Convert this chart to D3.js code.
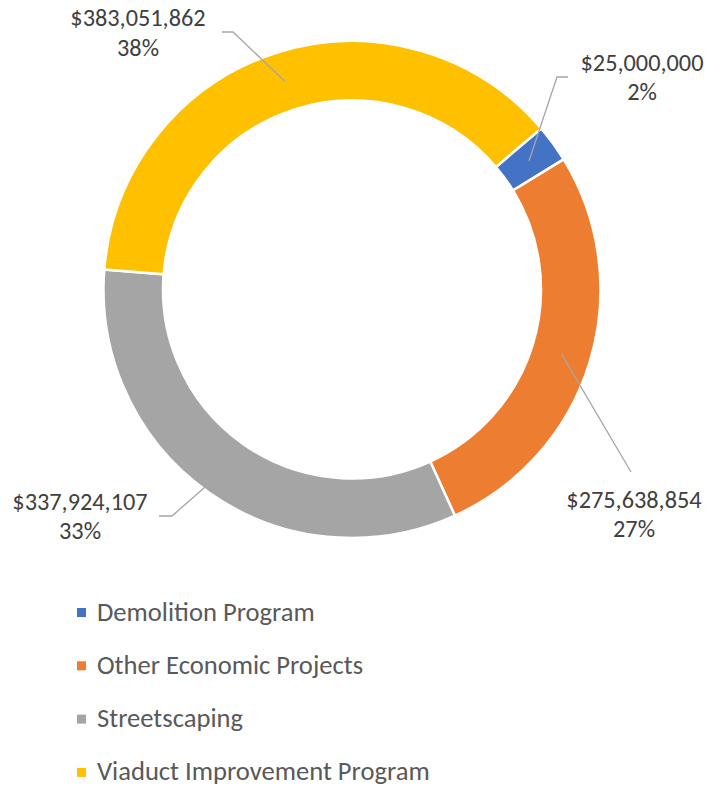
<!DOCTYPE html>
<html lang="en">
<head>
    <meta charset="UTF-8">
    <script src="https://d3js.org/d3.v7.min.js"></script>
    <title>Program spending</title>
    <style>
        body { margin: 0; background: #fff; }
        text { font-family: Carlito, Calibri, "Open Sans", sans-serif; }
    </style>
</head>
<body>
    <div id="chart"></div>
    <script>
        // data
        var categories = ["Demolition Program", "Other Economic Projects", "Streetscaping", "Viaduct Improvement Program"];
        var amounts = [25000000, 275638854, 337924107, 383051862];
        var pctLabels = ["2%", "27%", "33%", "38%"];
        var colors = ["#4472C4", "#ED7D31", "#A5A5A5", "#FFC000"];

        var width = 720, height = 787;
        var cx = 352, cy = 289.5;
        var outerR = 248.5, innerR = 189;

        var svg = d3.select("#chart").append("svg")
            .attr("width", width)
            .attr("height", height);

        var rows = categories.map(function (c, i) {
            return { name: c, value: amounts[i], pct: pctLabels[i], color: colors[i] };
        });

        // excel "angle of first slice" ~ 49.6 degrees
        var pie = d3.pie()
            .sort(null)
            .value(function (d) { return d.value; })
            .startAngle(49.6 * Math.PI / 180)
            .endAngle((49.6 + 360) * Math.PI / 180);

        var arc = d3.arc().innerRadius(innerR).outerRadius(outerR);
        var midArc = d3.arc().innerRadius((innerR + outerR) / 2).outerRadius((innerR + outerR) / 2);

        var g = svg.append("g").attr("transform", "translate(" + cx + "," + cy + ")");
        var arcs = pie(rows);

        g.selectAll("path.slice")
            .data(arcs)
            .enter()
            .append("path")
            .attr("class", "slice")
            .attr("d", arc)
            .style("fill", function (d) { return d.data.color; })
            .style("stroke", "#fff")
            .style("stroke-width", 2.5);

        // label placement (absolute page coords): text centre x, first baseline, leader elbow
        var labelPos = [
            { x: 642, y: 70.5, elbow: [557, 77], end: [568, 77] },
            { x: 634, y: 507.5, elbow: null, end: [631, 472] },
            { x: 80, y: 509.5, elbow: [172, 516], end: [159, 516] },
            { x: 138, y: 26, elbow: [233, 32], end: [222, 32] }
        ];

        var labels = svg.append("g");
        arcs.forEach(function (a, i) {
            var p = labelPos[i];
            var c = midArc.centroid(a);
            var pts = [[cx + c[0], cy + c[1]]];
            if (p.elbow) pts.push(p.elbow);
            pts.push(p.end);
            labels.append("path")
                .attr("d", d3.line()(pts))
                .style("fill", "none")
                .style("stroke", "#A6A6A6")
                .style("stroke-width", 1.3);

            var t = labels.append("text")
                .attr("text-anchor", "middle")
                .style("font-size", "24.3px")
                .style("fill", "#404040");
            t.append("tspan").attr("x", p.x).attr("y", p.y).text(d3.format("$,")(a.data.value));
            t.append("tspan").attr("x", p.x).attr("y", p.y + 29.5).text(a.data.pct);
        });

        // legend
        var legend = svg.append("g").attr("transform", "translate(77, 620.5)");
        var item = legend.selectAll("g")
            .data(rows)
            .enter()
            .append("g")
            .attr("transform", function (d, i) { return "translate(0," + (i * 53.3) + ")"; });

        item.append("rect")
            .attr("x", 0)
            .attr("y", -12.5)
            .attr("width", 9)
            .attr("height", 9)
            .style("fill", function (d) { return d.color; });

        item.append("text")
            .attr("x", 20)
            .attr("y", 0)
            .style("font-size", "26.6px")
            .style("fill", "#595959")
            .text(function (d) { return d.name; });
    </script>
</body>
</html>
